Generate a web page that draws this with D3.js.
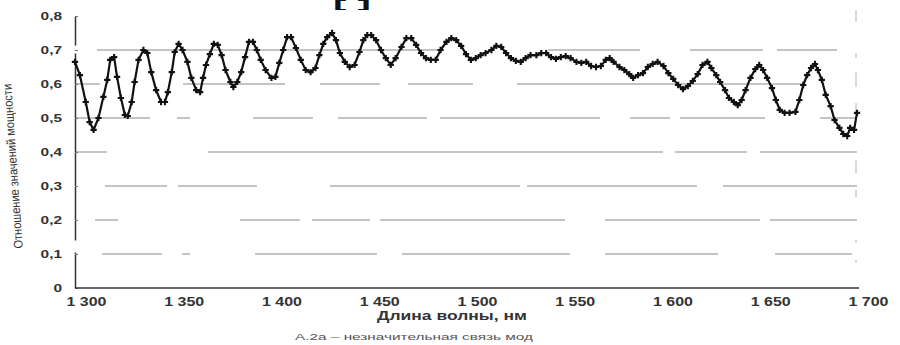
<!DOCTYPE html>
<html><head><meta charset="utf-8">
<script src="https://cdn.jsdelivr.net/npm/d3@7"></script>
<style>
body{margin:0;background:#fff}
svg{display:block}
text{font-family:"Liberation Sans",Arial,sans-serif}
</style>
</head><body>
<svg id="chart" width="900" height="345"></svg>
<script>
// ---- data ----
const wavelengths = [
  1300,1302.5,1305.5,1307.5,1309.5,1312,1314.5,1316.5,1318,1320,
  1321.5,1323.5,1325.5,1327,1329,1330.5,1332.5,1335,1337,1339,
  1341.5,1344,1346,1347.5,1349.5,1351,1353,1355,1357.5,1359.5,
  1362,1364,1365.5,1367,1369,1371,1373,1375,1377,1379.5,
  1381,1383,1385,1387,1389,1391,1393,1395,1397.5,1400.5,
  1402.5,1404.5,1406.5,1408.5,1410.5,1413,1415.5,1418,1420.5,1423,
  1425,1427,1429,1431.5,1433.5,1435.5,1438,1440.5,1443,1445.5,
  1447.5,1449.5,1451.5,1454,1456.5,1459,1461.5,1464,1467,1469.5,
  1472,1474.5,1477,1479.5,1482,1484.5,1487,1490,1492.5,1495,
  1497.5,1500,1502.5,1505,1507.5,1510,1513,1515.5,1518,1520.5,
  1523,1525.5,1528,1530.5,1533,1536,1538.5,1541,1543.5,1546,
  1548.5,1551,1553.5,1556.5,1559,1561.5,1564,1566.5,1569,1571.5,
  1573.5,1575.5,1578.5,1581,1583.5,1585.5,1588,1590.5,1593,1595.5,
  1598,1601,1603.5,1606,1608.5,1611,1613.5,1616,1618.5,1621,
  1623.5,1625.5,1628,1630,1632.5,1634.5,1637,1639,1641,1643,
  1645.5,1648,1650,1652,1654,1656.5,1658.5,1660.5,1663,1665.5,
  1668.5,1670.5,1672.5,1674.5,1676.5,1678.5,1680,1682,1684,1686.5,
  1688.5,1691,1693,1695,1696.5,1698.5,1700
];
const ratios = [
  0.665,0.626,0.547,0.488,0.465,0.500,0.562,0.612,0.671,0.679,
  0.621,0.559,0.509,0.506,0.547,0.606,0.671,0.700,0.691,0.635,
  0.582,0.547,0.547,0.576,0.635,0.694,0.718,0.700,0.665,0.618,
  0.582,0.576,0.618,0.656,0.688,0.718,0.715,0.685,0.641,0.606,
  0.591,0.606,0.635,0.679,0.724,0.724,0.700,0.671,0.641,0.618,
  0.621,0.662,0.700,0.738,0.738,0.706,0.671,0.641,0.635,0.647,
  0.685,0.718,0.738,0.750,0.729,0.691,0.665,0.650,0.656,0.694,
  0.729,0.744,0.744,0.729,0.700,0.676,0.656,0.676,0.709,0.735,
  0.735,0.715,0.691,0.676,0.671,0.671,0.700,0.724,0.735,0.729,
  0.712,0.688,0.671,0.676,0.685,0.691,0.700,0.712,0.709,0.691,
  0.676,0.668,0.665,0.676,0.685,0.685,0.691,0.691,0.679,0.674,
  0.679,0.682,0.676,0.665,0.662,0.665,0.653,0.650,0.653,0.671,
  0.676,0.665,0.650,0.641,0.629,0.618,0.626,0.632,0.650,0.659,
  0.665,0.653,0.632,0.615,0.597,0.585,0.594,0.609,0.629,0.656,
  0.665,0.647,0.626,0.606,0.582,0.559,0.547,0.538,0.553,0.582,
  0.618,0.644,0.656,0.641,0.618,0.588,0.553,0.524,0.515,0.515,
  0.518,0.553,0.597,0.626,0.647,0.659,0.641,0.612,0.568,0.535,
  0.494,0.471,0.453,0.447,0.471,0.465,0.515
];
const yTicks = [0,0.1,0.2,0.3,0.4,0.5,0.6,0.7,0.8];
const xTicks = [1300,1350,1400,1450,1500,1550,1600,1650,1700];
const xTitle = "Длина волны, нм";
const yTitle = "Отношение значений мощности";
const caption = "А.2а – незначительная связь мод";
const refMark = "[   ]";

// ---- styles (scan-like broken gridlines) ----
const gridDash = {
  "0.1": "0 27 60 20 8 65 122 25 168 35 113 57 77 100",
  "0.2": "0 20 23 122 60 12 58 10 185 40 155 10 87 100",
  "0.3": "0 30 62 11 79 73 190 7 170 26 134 100",
  "0.4": "32 101 455 12 72 13 97 100",
  "0.5": "75 27 13 63 60 25 89 13 160 30 40 10 85 55 37 100",
  "0.6": "25 83 102 35 60 28 65 44 286 100",
  "0.7": "0 22 343 108 92 50 73 14 60 100"
};

const svg = d3.select("#chart");
const x = d3.scaleLinear().domain([1300,1700]).range([75,857]);
const y = d3.scaleLinear().domain([0,0.8]).range([288,16]);

const data = wavelengths.map((w,i)=>({w, v: ratios[i]}));

// gridlines
svg.append("g").selectAll("line")
  .data(yTicks.filter(t => t>0 && t<0.8))
  .join("line")
  .attr("x1", x(1300)).attr("x2", x(1700)+3)
  .attr("y1", d=>y(d)).attr("y2", d=>y(d))
  .attr("stroke", "#8a8a8a").attr("stroke-width", 1.1)
  .attr("stroke-dasharray", d => gridDash[d.toFixed(1)]);

// faint right border
svg.append("line")
  .attr("x1", x(1700)-1).attr("x2", x(1700)-1)
  .attr("y1", y(0.8)-6).attr("y2", y(0))
  .attr("stroke", "#b5b5b5").attr("stroke-width", 1)
  .attr("stroke-dasharray", "12 31 5 14 15 16 12 45 13 17 7 43 3 17 3 30");

// y axis
const fmtY = d => d===0 ? "0" : d3.format(".1f")(d).replace(".", ",");
const gy = svg.append("g").attr("transform", `translate(${x(1300)},0)`)
  .call(d3.axisLeft(y).tickValues(yTicks).tickFormat(fmtY).tickSizeInner(-3).tickSizeOuter(0).tickPadding(13));
gy.select(".domain").attr("stroke", "#333").attr("stroke-width", 1.5)
  .attr("stroke-dasharray", "36 12 187 8 29");
gy.selectAll(".tick line").attr("stroke", "#777");
gy.selectAll(".tick text").attr("font-size", 11).attr("font-weight", "bold").attr("fill", "#333")
  .each(function(){ const w=this.getComputedTextLength(); d3.select(this).attr("textLength", w*1.4).attr("lengthAdjust","spacingAndGlyphs"); });

// x axis
const loc = d3.formatLocale({decimal:",", thousands:" ", grouping:[3], currency:["",""]});
const gx = svg.append("g").attr("transform", `translate(0,${y(0)})`)
  .call(d3.axisBottom(x).tickValues(xTicks).tickFormat(loc.format(",")).tickSize(0).tickPadding(9));
gx.select(".domain").attr("stroke", "#333").attr("stroke-width", 1.5).attr("d", `M${x(1300)},0H${x(1700)+2}`);
gx.selectAll(".tick text").attr("font-size", 12).attr("font-weight", "bold").attr("fill", "#333").attr("dx", 11)
  .each(function(){ const w=this.getComputedTextLength(); d3.select(this).attr("textLength", w*1.33).attr("lengthAdjust","spacingAndGlyphs"); });

// line
svg.append("path").datum(data)
  .attr("fill", "none").attr("stroke", "#111").attr("stroke-width", 2.2)
  .attr("stroke-linejoin", "round")
  .attr("d", d3.line().x(d=>x(d.w)).y(d=>y(d.v)));

// markers
svg.append("g").selectAll("path").data(data).join("path")
  .attr("transform", d=>`translate(${x(d.w)},${y(d.v)})`)
  .attr("d", d3.symbol(d3.symbolCross).size(22))
  .attr("fill", "#111");

// titles
svg.append("text").attr("x", 452).attr("y", 320).attr("text-anchor","middle")
  .attr("font-size", 13).attr("font-weight","bold").attr("fill","#333")
  .attr("textLength", 150).attr("lengthAdjust","spacingAndGlyphs").text(xTitle);

svg.append("text").attr("transform", "translate(17,166) rotate(-94)").attr("text-anchor","middle")
  .attr("font-size", 12.5).attr("fill","#333")
  .attr("textLength", 165).attr("lengthAdjust","spacingAndGlyphs").text(yTitle);

svg.append("text").attr("x", 414).attr("y", 340).attr("text-anchor","middle")
  .attr("font-size", 9.5).attr("fill","#555")
  .attr("textLength", 238).attr("lengthAdjust","spacingAndGlyphs").text(caption);

svg.append("text").attr("x", 333).attr("y", 8).attr("text-anchor","start")
  .attr("font-size", 10).attr("font-weight","bold").attr("fill","#111")
  .attr("textLength", 38).attr("lengthAdjust","spacingAndGlyphs").text(refMark);
</script>
</body></html>
